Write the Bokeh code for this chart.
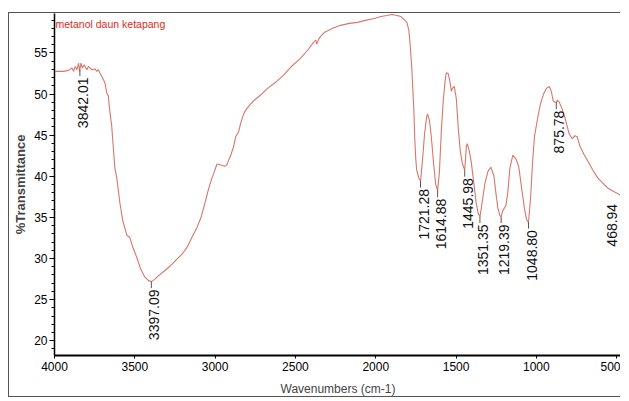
import numpy as np
from bokeh.plotting import figure
from bokeh.models import Range1d, FixedTicker, ColumnDataSource
from bokeh.core.properties import value
from bokeh.embed import file_html
from bokeh.resources import INLINE

title_text = "metanol daun ketapang"
x_label = "Wavenumbers (cm-1)"
y_label = "%Transmittance"

wavenumber = [
    3994, 3943, 3914, 3891, 3881, 3871, 3860, 3850, 3844, 3835, 3826, 3815, 3799, 3789,
    3768, 3747, 3737, 3727, 3717, 3706, 3686, 3675, 3665, 3655, 3644, 3638, 3624, 3612,
    3593, 3575, 3550, 3532, 3513, 3489, 3464, 3439, 3415, 3396, 3378, 3359, 3322, 3285,
    3248, 3205, 3174, 3144, 3113, 3088, 3063, 3039, 3020, 3008, 2989, 2977, 2959, 2940,
    2928, 2916, 2903, 2885, 2872, 2854, 2842, 2823, 2805, 2780, 2749, 2718, 2681, 2626,
    2577, 2527, 2472, 2423, 2386, 2373, 2367, 2355, 2342, 2318, 2268, 2219, 2164, 2114,
    2065, 2010, 1967, 1930, 1899, 1868, 1843, 1825, 1806, 1794, 1788, 1776, 1763, 1757,
    1751, 1745, 1732, 1721, 1708, 1696, 1683, 1677, 1665, 1653, 1640, 1628, 1615, 1604,
    1591, 1579, 1566, 1560, 1548, 1535, 1529, 1523, 1511, 1498, 1486, 1474, 1461, 1446,
    1436, 1430, 1418, 1406, 1393, 1375, 1362, 1351, 1338, 1320, 1301, 1283, 1264, 1252,
    1240, 1227, 1219, 1209, 1190, 1178, 1165, 1147, 1129, 1110, 1092, 1073, 1061, 1049,
    1036, 1024, 1012, 993, 975, 956, 938, 919, 907, 895, 882, 876, 870, 857, 839, 820,
    796, 777, 759, 746, 728, 703, 679, 648, 617, 586, 556, 525, 500, 482, 469, 457,
]
transmittance = [
    52.76, 52.76, 52.88, 53.17, 52.76, 53.36, 52.96, 53.77, 52.76, 53.77, 53.17, 53.56, 52.96, 53.36,
    52.96, 53.05, 52.76, 52.96, 52.57, 52.16, 51.37, 50.17, 49.76, 47.81, 46.17, 44.57, 40.98, 39.78,
    36.78, 34.62, 32.83, 32.59, 31.39, 30.19, 28.75, 27.79, 27.31, 27.19, 27.43, 27.79, 28.39, 28.99,
    29.71, 30.55, 31.39, 32.59, 33.78, 34.98, 36.78, 38.58, 39.78, 40.38, 41.46, 41.46, 41.34, 41.22,
    41.34, 41.94, 42.53, 43.61, 44.81, 45.41, 46.37, 47.57, 48.17, 48.77, 49.37, 49.85, 50.57, 51.40,
    52.24, 53.32, 54.28, 55.36, 56.32, 56.56, 56.08, 56.68, 57.04, 57.52, 58.00, 58.36, 58.60, 58.72,
    58.96, 59.20, 59.43, 59.55, 59.67, 59.55, 59.43, 59.08, 58.72, 57.76, 56.56, 53.32, 48.17, 44.57,
    42.18, 40.74, 39.80, 39.42, 42.18, 45.17, 47.21, 47.57, 46.73, 44.57, 41.58, 39.18, 38.22, 40.38,
    45.77, 49.37, 52.00, 52.60, 52.48, 51.16, 50.33, 50.69, 50.93, 49.37, 45.77, 43.13, 41.58, 40.74,
    43.61, 43.97, 43.13, 41.82, 39.78, 36.78, 35.46, 35.10, 36.78, 39.18, 40.62, 41.10, 40.02, 37.98,
    36.18, 35.22, 35.10, 35.82, 36.42, 37.98, 40.98, 42.53, 42.18, 41.22, 38.58, 35.94, 34.74, 34.38,
    37.38, 41.58, 44.81, 46.97, 48.77, 49.97, 50.69, 50.92, 50.33, 49.13, 49.01, 48.95, 49.25, 49.01,
    48.17, 46.97, 45.17, 44.57, 44.93, 44.81, 43.61, 42.65, 41.82, 40.74, 39.78, 39.18, 38.58, 38.22,
    37.98, 37.74, 37.62, 37.74,
]

peak_wn = [3842.01, 3397.09, 1721.28, 1614.88, 1445.98, 1351.35, 1219.39, 1048.80, 875.78, 468.94]
peak_text = ["3842.01", "3397.09", "1721.28", "1614.88", "1445.98", "1351.35", "1219.39",
             "1048.80", "875.78", "468.94"]

x_ticks = [4000, 3500, 3000, 2500, 2000, 1500, 1000, 500]
y_ticks = [20, 25, 30, 35, 40, 45, 50, 55]

line_color = "#d8766a"
font = "Liberation Sans"

p = figure(width=612, height=385, x_range=Range1d(4000, 470), y_range=Range1d(18.2, 59.8),
           output_backend="svg", toolbar_location=None,
           min_border_left=45, min_border_right=0, min_border_top=0, min_border_bottom=37,
           styles={"position": "absolute", "left": "8px", "top": "12px",
                   "border-left": "1px solid #555", "border-top": "1px solid #555",
                   "border-bottom": "1px solid #555"})
p.outline_line_color = None
p.xgrid.visible = False
p.ygrid.visible = False
p.background_fill_color = "white"
p.border_fill_color = "white"

p.line(wavenumber, transmittance, line_color=line_color, line_width=1.1)

# peak markers
wn_arr = np.array(wavenumber)[::-1]
t_arr = np.array(transmittance)[::-1]
peak_t = np.interp(peak_wn, wn_arr, t_arr)
label_dx = [3] * (len(peak_wn) - 1) + [-10]
src = ColumnDataSource(dict(x=peak_wn, y=peak_t, y0=peak_t - 0.8, txt=peak_text, dx=label_dx))
p.segment(x0="x", y0="y", x1="x", y1="y0", source=src, line_color="#555555", line_width=1)
p.text(x="x", y="y", text="txt", source=src, angle=np.pi / 2, text_align="right",
       text_baseline="middle", x_offset="dx", y_offset=8, text_font=value(font),
       text_font_size="14px", text_color="#111111")

# title inside frame
p.text(x=[p.x_range.start], y=[p.y_range.end], text=[title_text], text_baseline="top",
       x_offset=1, y_offset=4, text_font=value(font),
       text_font_size="10.5px", text_color="#e22a20")

xa = p.xaxis[0]
xa.ticker = FixedTicker(ticks=x_ticks, minor_ticks=list(range(500, 4001, 100)))
xa.axis_line_width = 2
xa.axis_line_color = "black"
xa.major_tick_out = 3
xa.major_tick_in = 0
xa.minor_tick_out = 0
xa.minor_tick_in = 0
xa.major_label_standoff = 3
xa.major_label_text_font = font
xa.major_label_text_font_size = "12px"
xa.major_label_text_color = "black"
xa.axis_label = x_label
xa.axis_label_text_font = font
xa.axis_label_text_font_size = "12px"
xa.axis_label_text_font_style = "normal"
xa.axis_label_standoff = 8

ya = p.yaxis[0]
ya.ticker = FixedTicker(ticks=y_ticks, minor_ticks=list(range(18, 60)))
ya.axis_line_width = 1.5
ya.axis_line_color = "black"
ya.major_tick_out = 5
ya.major_tick_in = 0
ya.minor_tick_out = 3
ya.minor_tick_in = 0
ya.major_label_standoff = 2
ya.major_label_text_font = font
ya.major_label_text_font_size = "12px"
ya.major_label_text_color = "black"
ya.axis_label = y_label
ya.axis_label_text_font = font
ya.axis_label_text_font_size = "13px"
ya.axis_label_text_font_style = "bold"
ya.axis_label_standoff = 3

open("out.html", "w").write(file_html(p, INLINE))
